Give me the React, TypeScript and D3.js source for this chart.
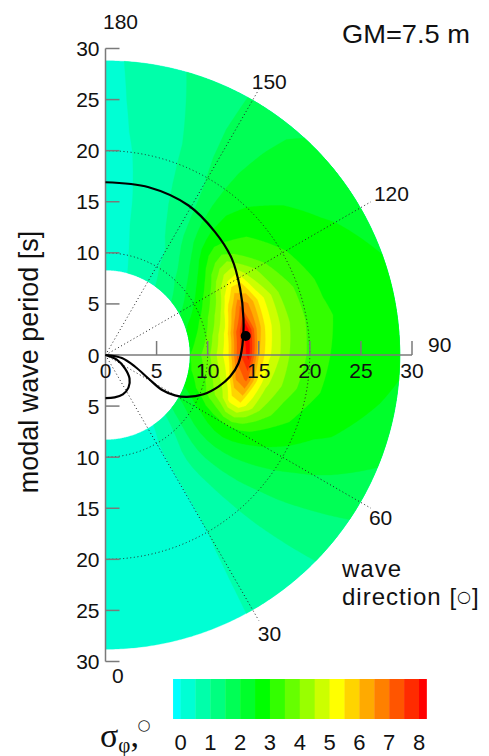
import React from 'react';
import * as d3 from 'd3';

// ---------- data ----------
const periodTicks = [-30, -25, -20, -15, -10, -5, 0, 5, 10, 15, 20, 25, 30];
const radialTicks = [5, 10, 15, 20, 25, 30];
const directionLabels = [180, 150, 120, 90, 60, 30, 0];
const gridCircles = [10, 20];
const gridSpokes = [30, 60, 120, 150];

// sigma_phi grid: rows = wave direction (deg), columns = modal wave period (s)
const gridDirections = [0, 10, 20, 30, 40, 50, 60, 70, 80, 90, 100, 110, 120, 130, 140, 150, 160, 170, 180];
const gridPeriods = [8.3, 10, 11, 12, 13, 14, 15, 16, 18, 20, 22, 25, 28.8];
const sigmaGrid = [
  [0.25, 0.27, 0.28, 0.28, 0.28, 0.28, 0.27, 0.26, 0.25, 0.24, 0.22, 0.2, 0.2],
  [0.3, 0.32, 0.33, 0.33, 0.33, 0.33, 0.32, 0.31, 0.3, 0.28, 0.26, 0.24, 0.22],
  [0.38, 0.4, 0.41, 0.42, 0.42, 0.42, 0.41, 0.4, 0.39, 0.37, 0.35, 0.33, 0.32],
  [0.42, 0.45, 0.47, 0.48, 0.48, 0.48, 0.48, 0.48, 0.49, 0.5, 0.51, 0.52, 0.53],
  [0.6, 0.85, 1.0, 1.1, 1.15, 1.15, 1.12, 1.08, 1.02, 0.96, 0.9, 0.82, 0.75],
  [1.4, 1.7, 1.85, 1.95, 2.0, 2.0, 1.95, 1.9, 1.75, 1.6, 1.5, 1.35, 1.2],
  [2.0, 2.4, 2.6, 2.8, 2.95, 3.0, 2.9, 2.75, 2.5, 2.3, 2.1, 1.9, 1.7],
  [2.6, 3.2, 3.8, 4.3, 5.2, 5.4, 4.7, 4.0, 3.2, 2.85, 2.6, 2.4, 2.1],
  [2.9, 3.6, 4.3, 5.0, 6.6, 7.1, 5.5, 4.6, 3.8, 3.2, 2.9, 2.65, 2.4],
  [3.0, 3.8, 4.6, 5.4, 7.3, 8.2, 6.0, 5.1, 4.0, 3.4, 3.0, 2.8, 2.6],
  [2.7, 3.5, 4.3, 5.2, 7.0, 8.4, 6.5, 5.3, 4.1, 3.45, 3.05, 2.8, 2.6],
  [2.4, 3.1, 3.7, 4.5, 5.8, 7.0, 6.4, 5.3, 4.0, 3.35, 2.95, 2.7, 2.5],
  [1.9, 2.5, 3.0, 3.6, 4.5, 5.2, 5.3, 4.4, 3.5, 3.05, 2.8, 2.55, 2.35],
  [1.45, 1.9, 2.2, 2.6, 3.1, 3.5, 3.6, 3.3, 3.0, 2.75, 2.55, 2.35, 2.15],
  [1.1, 1.35, 1.5, 1.7, 1.95, 2.2, 2.35, 2.45, 2.45, 2.35, 2.25, 2.1, 1.95],
  [0.85, 0.93, 0.98, 1.02, 1.1, 1.17, 1.23, 1.3, 1.42, 1.52, 1.58, 1.6, 1.55],
  [0.62, 0.68, 0.72, 0.76, 0.8, 0.83, 0.86, 0.89, 0.93, 0.97, 1.0, 1.06, 1.1],
  [0.38, 0.42, 0.44, 0.46, 0.48, 0.49, 0.5, 0.51, 0.54, 0.58, 0.63, 0.72, 0.85],
  [0.25, 0.25, 0.25, 0.25, 0.25, 0.25, 0.25, 0.25, 0.25, 0.25, 0.3, 0.3, 0.3],
];
const sigmaLevels = [0, 0.5, 1, 1.5, 2, 2.5, 3, 3.5, 4, 4.5, 5, 5.5, 6, 6.5, 7, 7.5, 8];
const colorbarTicks = [0, 1, 2, 3, 4, 5, 6, 7, 8];
const colorbarRange = [-0.25, 8.25];

// resonance curve [direction deg, period s]
const resonanceCurve = [
  [180, 16.91], [165.55, 16.96], [150.94, 16.74], [138.27, 16.12], [127.34, 15.55],
  [116.27, 14.69], [104.85, 13.97], [94.18, 13.44], [86.44, 13.04], [80.19, 12.38],
  [74.39, 11.48], [68.17, 10.33], [62.78, 8.96], [59.85, 7.86], [58.27, 6.47],
  [61.29, 4.79], [68.37, 3.12], [79.38, 1.63], [90, 0],
];
const resonanceLoop = [
  [90, 0], [67.75, 1.19], [55.62, 2.3], [45.62, 3.29], [35.11, 3.91],
  [23.82, 4.21], [12.24, 4.25], [0, 4.22],
];
const maxPoint = [97.7, 13.85];

// ---------- styles ----------
const bandColors = [
  '#00ffff', '#00ffd4', '#00ffaa', '#00ff80', '#00ff55', '#00ff2b', '#00ff00',
  '#33ff00', '#66ff00', '#99ff00', '#ccff00', '#ffff00', '#ffd400', '#ffaa00',
  '#ff8000', '#ff5500', '#ff2b00', '#ff0000',
];
const FONT = '"Liberation Sans", Arial, Helvetica, sans-serif';
const dirLabelNudge: Record<number, [number, number]> = {
  180: [-2.5, -20], 150: [-7, -1], 120: [3, -1], 90: [16, -3], 60: [-2, 17], 30: [-1, 21], 0: [6.5, 21.5],
};

export default function App() {
  const W = 489, H = 756;
  const cx = 105.5, cy = 355;
  const rScale = d3.scaleLinear().domain([0, 30]).range([0, 306.5]);
  const yScale = d3.scaleLinear().domain([-30, 30]).range([cy + 306.5, cy - 306.5]);
  const polar = (dir: number, T: number): [number, number] => {
    const a = (dir * Math.PI) / 180;
    return [cx + rScale(T) * Math.sin(a), cy + rScale(T) * Math.cos(a)];
  };

  // filled contours
  const nT = gridPeriods.length, nD = gridDirections.length;
  const tOf = d3.scaleLinear().domain(d3.range(nT)).range(gridPeriods).clamp(true);
  const dOf = d3.scaleLinear().domain(d3.range(nD)).range(gridDirections).clamp(true);
  const contours = d3.contours().size([nT, nD]).thresholds(sigmaLevels)(sigmaGrid.flat());
  const ringPath = (ring: number[][]) => {
    const pts: number[][] = [];
    for (let k = 0; k < ring.length - 1; k++) {
      const [x0, y0] = ring[k], [x1, y1] = ring[k + 1];
      const n = Math.max(1, Math.ceil(Math.hypot(x1 - x0, y1 - y0) / 0.05));
      for (let s = 0; s < n; s++) {
        const t = s / n;
        pts.push([x0 + (x1 - x0) * t, y0 + (y1 - y0) * t]);
      }
    }
    return 'M' + pts.map(([x, y]) => polar(dOf(y - 0.5), tOf(x - 0.5)).map((v) => v.toFixed(2)).join(',')).join('L') + 'Z';
  };
  const contourPaths = contours.map((c) => ({
    value: c.value,
    d: c.coordinates.map((poly) => poly.map((ring) => ringPath(ring as number[][])).join('')).join(''),
  }));
  const colorOf = (v: number) => bandColors[sigmaLevels.indexOf(v) + 1];

  const line = d3.line<number[]>()
    .x((d) => polar(d[0], d[1])[0])
    .y((d) => polar(d[0], d[1])[1])
    .curve(d3.curveCatmullRom.alpha(0.5));

  const arcPath = (T: number) => {
    const [x0, y0] = polar(180, T);
    const [x1, y1] = polar(0, T);
    return `M${x0},${y0}A${rScale(T)},${rScale(T)} 0 0 1 ${x1},${y1}`;
  };

  // colorbar
  const cb = d3.scaleLinear().domain([0, 8]).range([180.5, 419]);
  const cbEdges = [colorbarRange[0], ...sigmaLevels, colorbarRange[1]];

  return (
    <div style={{ position: 'absolute', left: 0, top: 0 }}>
      <svg width={W} height={H} style={{ display: 'block', background: '#fff' }} fontFamily={FONT}>
        {/* field */}
        <g>
          {contourPaths.map((c) => (
            <path key={c.value} d={c.d} fill={colorOf(c.value)} fillRule="evenodd" stroke={colorOf(c.value)} strokeWidth={0.3} />
          ))}
        </g>
        {/* dotted grid */}
        <g stroke="#222" strokeWidth={1} strokeDasharray="1,2.6" fill="none">
          {gridCircles.map((T) => <path key={T} d={arcPath(T)} />)}
          {gridSpokes.map((a) => {
            const [x1, y1] = polar(a, 30);
            return <line key={a} x1={cx} y1={cy} x2={x1} y2={y1} />;
          })}
        </g>
        {/* axes */}
        <g stroke="#7a7a7a" strokeWidth={1.5}>
          <line x1={cx} y1={yScale(30)} x2={cx} y2={yScale(-30)} />
          <line x1={cx} y1={cy} x2={cx + rScale(30)} y2={cy} />
          {periodTicks.map((v) => (
            <line key={'yt' + v} x1={cx} x2={cx + 14} y1={yScale(v)} y2={yScale(v)} />
          ))}
          {radialTicks.map((v) => (
            <line key={'xt' + v} x1={cx + rScale(v)} x2={cx + rScale(v)} y1={cy} y2={cy - 14} />
          ))}
        </g>
        <g fontSize={21} fill="#111">
          {periodTicks.map((v) => (
            <text key={'yl' + v} x={cx - 6} y={yScale(v) + 7.5} textAnchor="end">{Math.abs(v)}</text>
          ))}
          {[0, ...radialTicks].map((v) => (
            <text key={'xl' + v} x={cx + rScale(v)} y={378} textAnchor="middle">{v}</text>
          ))}
          {directionLabels.map((a) => {
            const [x, y] = polar(a, 30);
            const [dx, dy] = dirLabelNudge[a];
            return <text key={'dl' + a} x={x + dx} y={y + dy}>{a}</text>;
          })}
        </g>
        {/* curves */}
        <g fill="none" stroke="#000" strokeWidth={2.2}>
          <path d={line(resonanceCurve) || ''} />
          <path d={line(resonanceLoop) || ''} />
        </g>
        <circle cx={polar(maxPoint[0], maxPoint[1])[0]} cy={polar(maxPoint[0], maxPoint[1])[1]} r={5} fill="#000" />

        {/* titles */}
        <text x={342} y={43} fontSize={26} textLength={128} lengthAdjust="spacingAndGlyphs" fill="#111">GM=7.5 m</text>
        <text x={342} y={577} fontSize={24} letterSpacing={1} fill="#111">wave</text>
        <text x={342} y={605} fontSize={24} letterSpacing={1} fill="#111">direction [<tspan fontSize={16} dy={-3} fontFamily="DejaVu Sans">○</tspan><tspan dy={3}>]</tspan></text>
        <text transform="translate(38,362) rotate(-90)" textAnchor="middle" fontSize={27} fill="#111">modal wave period [s]</text>

        {/* colorbar */}
        <g>
          {cbEdges.slice(0, -1).map((v, i) => (
            <rect key={'cb' + i} x={cb(v)} y={679} width={cb(cbEdges[i + 1]) - cb(v) + 0.4} height={40} fill={bandColors[i]} />
          ))}
          {colorbarTicks.map((v) => (
            <text key={'cbt' + v} x={cb(v)} y={750} textAnchor="middle" fontSize={22} fill="#111">{v}</text>
          ))}
        </g>
        <text x={100} y={747} fontFamily='"Liberation Serif", "Times New Roman", serif' fontSize={34} fill="#111">σ<tspan fontSize={21} dy={5}>φ</tspan><tspan dy={-5}>,</tspan></text>
        <text x={144} y={730} textAnchor="middle" fontSize={15} fontFamily="DejaVu Sans" fill="#222">○</text>
      </svg>
    </div>
  );
}
